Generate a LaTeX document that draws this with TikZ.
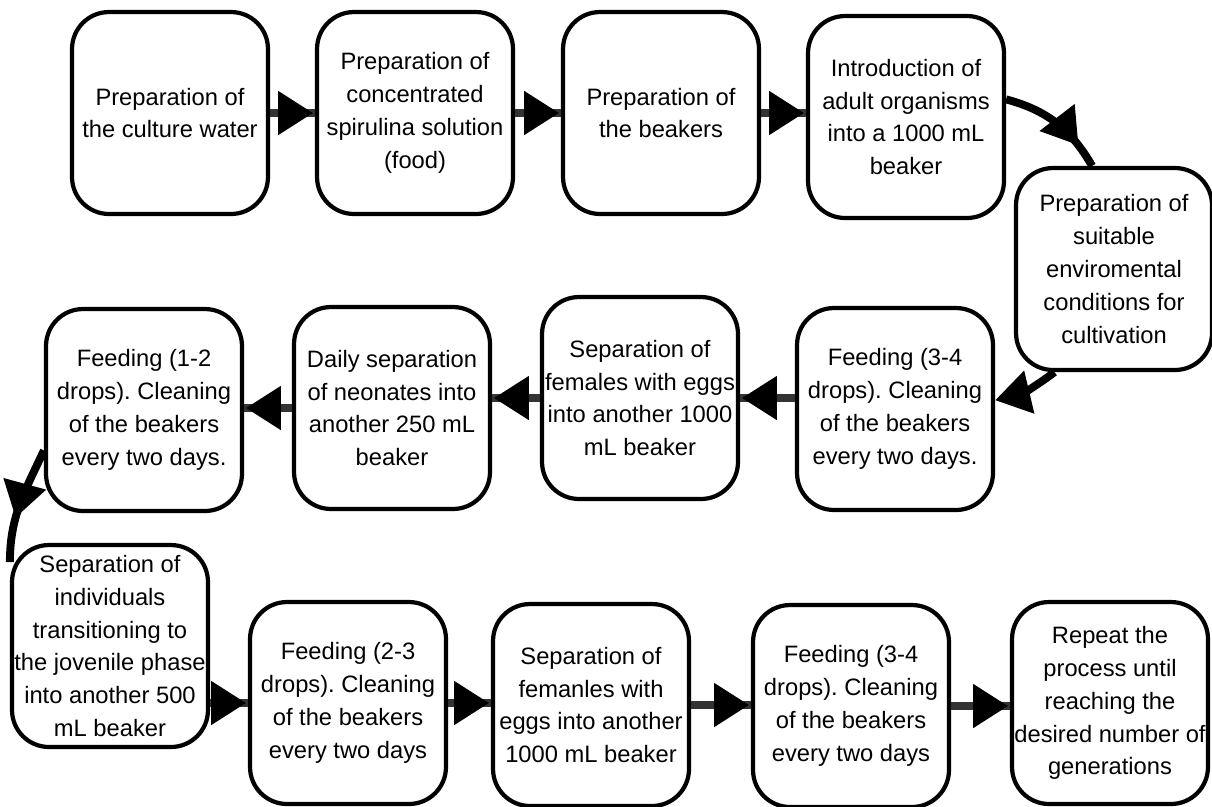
\documentclass[tikz,border=0pt]{standalone}
\usepackage{fontspec}
\setmainfont{Liberation Sans}
\usetikzlibrary{arrows.meta,decorations.markings}
\frenchspacing

\begin{document}
\begin{tikzpicture}[x=0.02cm,y=-0.02cm,
  stepbox/.style={draw,line width=2.4pt,rounded corners=0.74cm,minimum width=3.92cm,minimum height=4.04cm,inner sep=0pt,align=center,font=\fontsize{13.5}{18.7}\selectfont},
  flow/.style={line width=4.5pt,black!80,postaction={decorate},decoration={markings,mark=at position -1pt with {\arrow{Triangle[length=20pt,width=24pt,color=black]}}}},
  curvearrow/.style={line width=4.5pt,postaction={decorate},decoration={markings,mark=at position #1 with {\arrow{Triangle[length=20pt,width=24pt]}}}}
]

\useasboundingbox (0,0) rectangle (1212,806);

% First row
\node[stepbox] (B1) at (170,113) {Preparation of\\the culture water};
\node[stepbox] (B2) at (415,113) {Preparation of\\concentrated\\spirulina solution\\(food)};
\node[stepbox] (B3) at (661,113) {Preparation of\\the beakers};
\node[stepbox] (B4) at (906,117) {Introduction of\\adult organisms\\into a 1000 mL\\beaker};
\node[stepbox] (B5) at (1114,269) {Preparation of\\suitable\\enviromental\\conditions for\\cultivation};

% Second row
\node[stepbox] (B6) at (895,409) {Feeding (3-4\\drops). Cleaning\\of the beakers\\every two days.};
\node[stepbox] (B7) at (640,398) {Separation of\\females with eggs\\into another 1000\\mL beaker};
\node[stepbox] (B8) at (392,408) {Daily separation\\of neonates into\\another 250 mL\\beaker};
\node[stepbox] (B9) at (144,410) {Feeding (1-2\\drops). Cleaning\\of the beakers\\every two days.};

% Third row
\node[stepbox] (B10) at (110,646) {Separation of\\individuals\\transitioning to\\the jovenile phase\\into another 500\\mL beaker};
\node[stepbox] (B11) at (348,703) {Feeding (2-3\\drops). Cleaning\\of the beakers\\every two days};
\node[stepbox] (B12) at (591,705) {Separation of\\femanles with\\eggs into another\\1000 mL beaker};
\node[stepbox] (B13) at (851,706) {Feeding (3-4\\drops). Cleaning\\of the beakers\\every two days};
\node[stepbox] (B14) at (1110,703) {Repeat the\\process until\\reaching the\\desired number of\\generations};

% Straight arrows
\draw[flow] (B1.east) -- (B1.east -| B2.west);
\draw[flow] (B2.east) -- (B2.east -| B3.west);
\draw[flow] (B3.east) -- (B3.east -| B4.west);

\draw[flow] (B6.west |- B7.east) -- (B7.east);
\draw[flow] (B7.west) -- (B7.west -| B8.east);
\draw[flow] (B8.west) -- (B8.west -| B9.east);

\draw[flow] (B10.east |- B11.west) -- (B11.west);
\draw[flow] (B11.east) -- (B11.east -| B12.west);
\draw[flow] (B12.east) -- (B12.east -| B13.west);
\draw[flow] (B13.east) -- (B13.east -| B14.west);

% Curved arrows
\draw[curvearrow=0.78] (B4.10) to[out=-15,in=120] (B5.102);
\draw[line width=4.5pt,-{Triangle[length=20pt,width=24pt]}] (B5.240) to[bend left=12] (B6.5);
\draw[curvearrow=0.62] (B9.202) to[out=245,in=90] (B10.140);

\end{tikzpicture}
\end{document}
